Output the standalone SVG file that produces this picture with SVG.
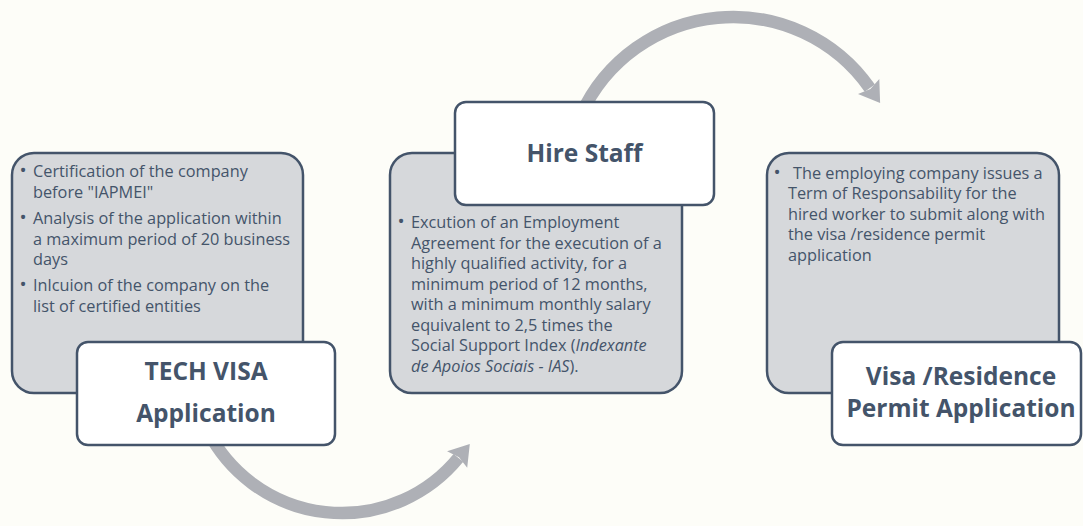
<svg xmlns="http://www.w3.org/2000/svg" width="1083" height="526" viewBox="0 0 1083 526">
  <style>
    .bg{fill:#FDFDF8}
    .panel{fill:#D6D8DB;stroke:#44546A;stroke-width:2.5}
    .title{fill:#FFFFFF;stroke:#44546A;stroke-width:2.5}
    .body{font-family:"Open Sans","Noto Sans","Liberation Sans",sans-serif;font-size:16.3px;fill:#44546A}
    .head{font-family:"Open Sans","Noto Sans","Liberation Sans",sans-serif;font-size:24.5px;font-weight:bold;fill:#44546A;text-anchor:middle}
    .arc{fill:none;stroke:#AEB0B6;stroke-width:12.5}
    .it{font-style:italic}
    .b{font-size:19px}
  </style>
  <defs>
    <marker id="ah" markerUnits="userSpaceOnUse" markerWidth="30" markerHeight="30" refX="1" refY="0" viewBox="-2 -15 24 30" orient="auto">
      <path d="M-1,-13 L19,0 L-1,13 L2,0 Z" fill="#AEB0B6"/>
    </marker>
  </defs>
  <rect class="bg" x="0" y="0" width="1083" height="526"/>

  <g id="connectors">
    <path class="arc" d="M 207.4,430 A 150.5 150.5 0 0 0 458.4,457.9" marker-end="url(#ah)"/>
    <path class="arc" d="M 580.9,115 A 167 167 0 0 1 869.8,88.2" marker-end="url(#ah)"/>
  </g>

  <g id="node-tech-visa">
    <rect class="panel" x="12" y="153" width="291" height="240" rx="22"/>
    <text class="body" x="19.5" y="177"><tspan class="b">•</tspan><tspan x="33">Certification of the company</tspan><tspan x="33" y="197.5">before "IAPMEI"</tspan></text>
    <text class="body" x="19.5" y="224"><tspan class="b">•</tspan><tspan x="33">Analysis of the application within</tspan><tspan x="33" y="244.5">a maximum period of 20 business</tspan><tspan x="33" y="265">days</tspan></text>
    <text class="body" x="19.5" y="291"><tspan class="b">•</tspan><tspan x="33">Inlcuion of the company on the</tspan><tspan x="33" y="311.5">list of certified entities</tspan></text>
    <rect class="title" x="77" y="342" width="258" height="103" rx="11"/>
    <text class="head" x="206" y="380">TECH VISA</text>
    <text class="head" x="206" y="422">Application</text>
  </g>

  <g id="node-hire-staff">
    <rect class="panel" x="390" y="153" width="292" height="240" rx="22"/>
    <rect class="title" x="455" y="102" width="259" height="103" rx="11"/>
    <text class="head" x="584.5" y="161.5">Hire Staff</text>
    <text class="body" x="397.5" y="228"><tspan class="b">•</tspan><tspan x="411">Excution of an Employment</tspan><tspan x="411" y="248.5">Agreement for the execution of a</tspan><tspan x="411" y="269">highly qualified activity, for a</tspan><tspan x="411" y="289.5">minimum period of 12 months,</tspan><tspan x="411" y="310">with a minimum monthly salary</tspan><tspan x="411" y="330.5">equivalent to 2,5 times the</tspan><tspan x="411" y="351">Social Support Index (<tspan class="it">Indexante</tspan></tspan><tspan x="411" y="371.5"><tspan class="it">de Apoios Sociais - IAS</tspan>).</tspan></text>
  </g>

  <g id="node-visa-residence">
    <rect class="panel" x="767" y="153" width="292" height="240" rx="22"/>
    <text class="body" x="773.5" y="178.5"><tspan class="b">•</tspan><tspan x="793">The employing company issues a</tspan><tspan x="788" y="199">Term of Responsability for the</tspan><tspan x="788" y="219.5">hired worker to submit along with</tspan><tspan x="788" y="240">the visa /residence permit</tspan><tspan x="788" y="260.5">application</tspan></text>
    <rect class="title" x="832" y="342" width="249" height="103" rx="11"/>
    <text class="head" x="961" y="385">Visa /Residence</text>
    <text class="head" x="961" y="417">Permit Application</text>
  </g>
</svg>
